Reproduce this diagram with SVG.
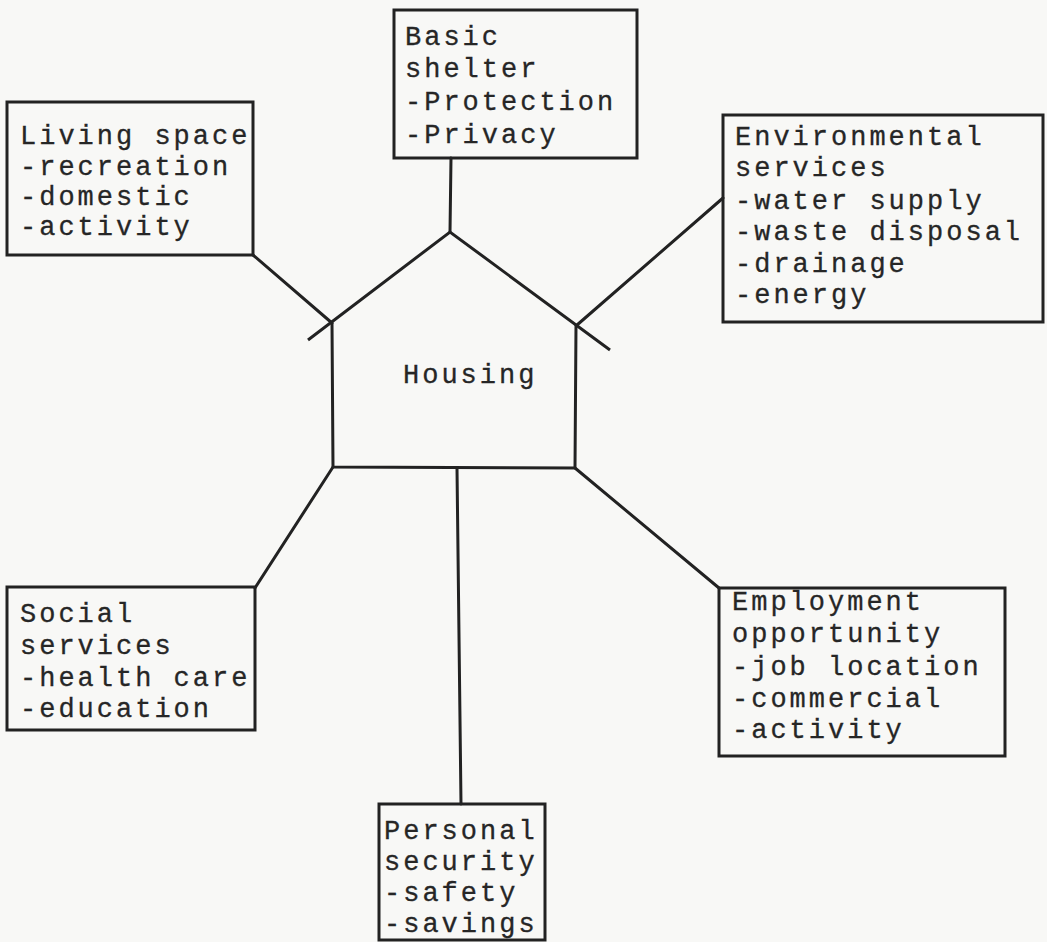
<svg xmlns="http://www.w3.org/2000/svg" width="1047" height="942" viewBox="0 0 1047 942">
  <style>
    .box { fill: none; stroke: #222; stroke-width: 3; stroke-linejoin: miter; }
    .edge { fill: none; stroke: #222; stroke-width: 3; stroke-linecap: round; }
    .lbl { font-family: "Liberation Mono", "Courier New", monospace; font-size: 27px; letter-spacing: 3px; fill: #262626; stroke: #262626; stroke-width: 0.3; }
  </style>
  <rect x="0" y="0" width="1047" height="942" fill="#f8f8f6"/>

  <!-- connectors between Housing and the surrounding needs -->
  <g id="connectors">
    <line class="edge" x1="451" y1="158" x2="450" y2="232"/>
    <line class="edge" x1="253" y1="255" x2="332" y2="323"/>
    <line class="edge" x1="723" y1="198" x2="577" y2="325"/>
    <line class="edge" x1="333" y1="467" x2="255" y2="588"/>
    <line class="edge" x1="575" y1="468" x2="719" y2="588"/>
    <line class="edge" x1="457" y1="468" x2="461" y2="804"/>
  </g>

  <!-- central house shape -->
  <g id="housing">
    <path class="box" d="M308,340 L450,232 L610,350"/>
    <path class="box" d="M332,323 L333,467 L575,468 L576,325"/>
    <text class="lbl" x="403" y="383">Housing</text>
  </g>

  <g id="basic-shelter">
    <rect class="box" x="394" y="10" width="243" height="148"/>
    <text class="lbl" x="405" y="45">Basic</text>
    <text class="lbl" x="405" y="77">shelter</text>
    <text class="lbl" x="405" y="110">-Protection</text>
    <text class="lbl" x="405" y="143">-Privacy</text>
  </g>

  <g id="living-space">
    <rect class="box" x="7" y="102" width="246" height="153"/>
    <text class="lbl" x="20" y="144">Living space</text>
    <text class="lbl" x="20" y="175">-recreation</text>
    <text class="lbl" x="20" y="205">-domestic</text>
    <text class="lbl" x="20" y="235">-activity</text>
  </g>

  <g id="environmental-services">
    <rect class="box" x="723" y="115" width="320" height="207"/>
    <text class="lbl" x="735" y="145">Environmental</text>
    <text class="lbl" x="735" y="176">services</text>
    <text class="lbl" x="735" y="209">-water supply</text>
    <text class="lbl" x="735" y="240">-waste disposal</text>
    <text class="lbl" x="735" y="272">-drainage</text>
    <text class="lbl" x="735" y="303">-energy</text>
  </g>

  <g id="social-services">
    <rect class="box" x="7" y="587" width="248" height="143"/>
    <text class="lbl" x="20" y="622">Social</text>
    <text class="lbl" x="20" y="654">services</text>
    <text class="lbl" x="20" y="686">-health care</text>
    <text class="lbl" x="20" y="717">-education</text>
  </g>

  <g id="employment-opportunity">
    <rect class="box" x="719" y="588" width="286" height="168"/>
    <text class="lbl" x="732" y="610">Employment</text>
    <text class="lbl" x="732" y="642">opportunity</text>
    <text class="lbl" x="732" y="675">-job location</text>
    <text class="lbl" x="732" y="707">-commercial</text>
    <text class="lbl" x="732" y="738">-activity</text>
  </g>

  <g id="personal-security">
    <rect class="box" x="379" y="804" width="166" height="136"/>
    <text class="lbl" x="384" y="839">Personal</text>
    <text class="lbl" x="384" y="870">security</text>
    <text class="lbl" x="384" y="901">-safety</text>
    <text class="lbl" x="384" y="932">-savings</text>
  </g>
</svg>
